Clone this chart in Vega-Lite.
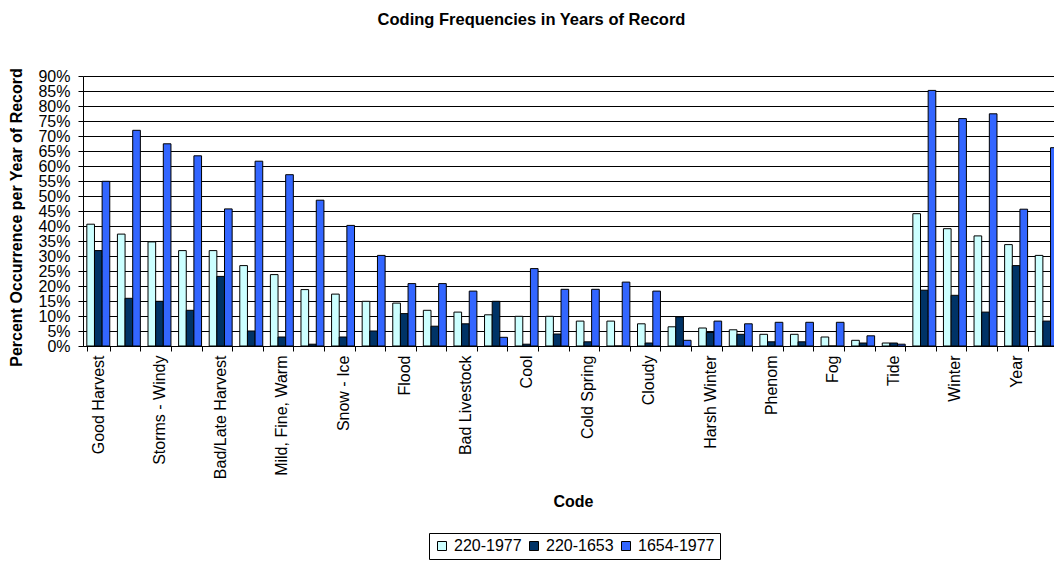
{
  "$schema": "https://vega.github.io/schema/vega-lite/v6.json",
  "autosize": {"type": "none"},
  "padding": {"left": 83, "top": 76, "right": 0, "bottom": 217},
  "width": 971,
  "height": 270,
  "background": "white",
  "config": {
    "font": "Liberation Sans",
    "view": {"stroke": null}
  },
  "title": {
    "text": "Coding Frequencies in Years of Record",
    "fontSize": 16.5,
    "fontWeight": "bold",
    "color": "black",
    "anchor": "middle",
    "dx": -37,
    "offset": 39
  },
  "data": {
    "values": [
      {"code": "Good Harvest", "period": "220-1977", "pct": 40.6},
      {"code": "Good Harvest", "period": "220-1653", "pct": 31.8},
      {"code": "Good Harvest", "period": "1654-1977", "pct": 54.9},
      {"code": "#2", "period": "220-1977", "pct": 37.3},
      {"code": "#2", "period": "220-1653", "pct": 15.9},
      {"code": "#2", "period": "1654-1977", "pct": 71.9},
      {"code": "Storms - Windy", "period": "220-1977", "pct": 34.7},
      {"code": "Storms - Windy", "period": "220-1653", "pct": 14.9},
      {"code": "Storms - Windy", "period": "1654-1977", "pct": 67.4},
      {"code": "#4", "period": "220-1977", "pct": 31.8},
      {"code": "#4", "period": "220-1653", "pct": 11.9},
      {"code": "#4", "period": "1654-1977", "pct": 63.4},
      {"code": "Bad/Late Harvest", "period": "220-1977", "pct": 31.8},
      {"code": "Bad/Late Harvest", "period": "220-1653", "pct": 23.2},
      {"code": "Bad/Late Harvest", "period": "1654-1977", "pct": 45.7},
      {"code": "#6", "period": "220-1977", "pct": 26.8},
      {"code": "#6", "period": "220-1653", "pct": 5.0},
      {"code": "#6", "period": "1654-1977", "pct": 61.6},
      {"code": "Mild, Fine, Warm", "period": "220-1977", "pct": 23.8},
      {"code": "Mild, Fine, Warm", "period": "220-1653", "pct": 3.0},
      {"code": "Mild, Fine, Warm", "period": "1654-1977", "pct": 57.1},
      {"code": "#8", "period": "220-1977", "pct": 18.8},
      {"code": "#8", "period": "220-1653", "pct": 0.6},
      {"code": "#8", "period": "1654-1977", "pct": 48.6},
      {"code": "Snow - Ice", "period": "220-1977", "pct": 17.3},
      {"code": "Snow - Ice", "period": "220-1653", "pct": 3.0},
      {"code": "Snow - Ice", "period": "1654-1977", "pct": 40.2},
      {"code": "#10", "period": "220-1977", "pct": 14.9},
      {"code": "#10", "period": "220-1653", "pct": 5.0},
      {"code": "#10", "period": "1654-1977", "pct": 30.2},
      {"code": "Flood", "period": "220-1977", "pct": 14.3},
      {"code": "Flood", "period": "220-1653", "pct": 10.8},
      {"code": "Flood", "period": "1654-1977", "pct": 20.8},
      {"code": "#12", "period": "220-1977", "pct": 11.9},
      {"code": "#12", "period": "220-1653", "pct": 6.6},
      {"code": "#12", "period": "1654-1977", "pct": 20.8},
      {"code": "Bad Livestock", "period": "220-1977", "pct": 11.3},
      {"code": "Bad Livestock", "period": "220-1653", "pct": 7.4},
      {"code": "Bad Livestock", "period": "1654-1977", "pct": 18.3},
      {"code": "#14", "period": "220-1977", "pct": 10.4},
      {"code": "#14", "period": "220-1653", "pct": 14.9},
      {"code": "#14", "period": "1654-1977", "pct": 2.9},
      {"code": "Cool", "period": "220-1977", "pct": 9.9},
      {"code": "Cool", "period": "220-1653", "pct": 0.6},
      {"code": "Cool", "period": "1654-1977", "pct": 25.8},
      {"code": "#16", "period": "220-1977", "pct": 9.9},
      {"code": "#16", "period": "220-1653", "pct": 4.0},
      {"code": "#16", "period": "1654-1977", "pct": 18.9},
      {"code": "Cold Spring", "period": "220-1977", "pct": 8.3},
      {"code": "Cold Spring", "period": "220-1653", "pct": 1.4},
      {"code": "Cold Spring", "period": "1654-1977", "pct": 18.9},
      {"code": "#18", "period": "220-1977", "pct": 8.3},
      {"code": "#18", "period": "220-1653", "pct": 0},
      {"code": "#18", "period": "1654-1977", "pct": 21.3},
      {"code": "Cloudy", "period": "220-1977", "pct": 7.4},
      {"code": "Cloudy", "period": "220-1653", "pct": 1.0},
      {"code": "Cloudy", "period": "1654-1977", "pct": 18.3},
      {"code": "#20", "period": "220-1977", "pct": 6.4},
      {"code": "#20", "period": "220-1653", "pct": 9.7},
      {"code": "#20", "period": "1654-1977", "pct": 1.9},
      {"code": "Harsh Winter", "period": "220-1977", "pct": 6.0},
      {"code": "Harsh Winter", "period": "220-1653", "pct": 4.5},
      {"code": "Harsh Winter", "period": "1654-1977", "pct": 8.3},
      {"code": "#22", "period": "220-1977", "pct": 5.4},
      {"code": "#22", "period": "220-1653", "pct": 3.9},
      {"code": "#22", "period": "1654-1977", "pct": 7.4},
      {"code": "Phenom", "period": "220-1977", "pct": 3.9},
      {"code": "Phenom", "period": "220-1653", "pct": 1.4},
      {"code": "Phenom", "period": "1654-1977", "pct": 7.9},
      {"code": "#24", "period": "220-1977", "pct": 3.9},
      {"code": "#24", "period": "220-1653", "pct": 1.4},
      {"code": "#24", "period": "1654-1977", "pct": 7.9},
      {"code": "Fog", "period": "220-1977", "pct": 3.0},
      {"code": "Fog", "period": "220-1653", "pct": 0},
      {"code": "Fog", "period": "1654-1977", "pct": 7.9},
      {"code": "#26", "period": "220-1977", "pct": 1.9},
      {"code": "#26", "period": "220-1653", "pct": 1.0},
      {"code": "#26", "period": "1654-1977", "pct": 3.4},
      {"code": "Tide", "period": "220-1977", "pct": 1.0},
      {"code": "Tide", "period": "220-1653", "pct": 1.0},
      {"code": "Tide", "period": "1654-1977", "pct": 0.6},
      {"code": "#28", "period": "220-1977", "pct": 44.1},
      {"code": "#28", "period": "220-1653", "pct": 18.6},
      {"code": "#28", "period": "1654-1977", "pct": 85.2},
      {"code": "Winter", "period": "220-1977", "pct": 39.1},
      {"code": "Winter", "period": "220-1653", "pct": 16.9},
      {"code": "Winter", "period": "1654-1977", "pct": 75.8},
      {"code": "#30", "period": "220-1977", "pct": 36.7},
      {"code": "#30", "period": "220-1653", "pct": 11.3},
      {"code": "#30", "period": "1654-1977", "pct": 77.4},
      {"code": "Year", "period": "220-1977", "pct": 33.8},
      {"code": "Year", "period": "220-1653", "pct": 26.8},
      {"code": "Year", "period": "1654-1977", "pct": 45.6},
      {"code": "#32", "period": "220-1977", "pct": 30.2},
      {"code": "#32", "period": "220-1653", "pct": 8.3},
      {"code": "#32", "period": "1654-1977", "pct": 66.1}
    ]
  },
  "mark": {"type": "bar", "stroke": "black", "strokeWidth": 1, "clip": true},
  "encoding": {
    "x": {
      "field": "code",
      "type": "nominal",
      "sort": null,
      "scale": {"range": [0, 979], "paddingInner": 0.25, "paddingOuter": 0.125},
      "axis": {
        "title": "Code",
        "titleFontSize": 16,
        "titleFontWeight": "bold",
        "titleColor": "black",
        "titleX": 490,
        "titleY": 155,
        "titleAlign": "center",
        "titleBaseline": "middle",
        "labelAngle": -90,
        "labelFontSize": 16,
        "labelColor": "black",
        "labelPadding": 4,
        "labelOverlap": false,
        "labelExpr": "test(/^#/, datum.label) ? '' : datum.label",
        "tickBand": "extent",
        "tickSize": 5,
        "tickColor": "black",
        "domainColor": "black",
        "grid": false
      }
    },
    "xOffset": {
      "field": "period",
      "type": "nominal",
      "sort": ["220-1977", "220-1653", "1654-1977"],
      "scale": {"paddingInner": 0, "paddingOuter": 0}
    },
    "y": {
      "field": "pct",
      "type": "quantitative",
      "scale": {"domain": [0, 90], "nice": false},
      "axis": {
        "title": "Percent Occurrence per Year of Record",
        "titleFontSize": 16,
        "titleFontWeight": "bold",
        "titleColor": "black",
        "titleX": -67,
        "titleY": 141,
        "titleAlign": "center",
        "titleBaseline": "middle",
        "values": [0, 5, 10, 15, 20, 25, 30, 35, 40, 45, 50, 55, 60, 65, 70, 75, 80, 85, 90],
        "labelExpr": "datum.value + '%'",
        "labelFontSize": 16,
        "labelColor": "black",
        "labelPadding": 8,
        "labelOverlap": false,
        "labelBound": false,
        "tickSize": 5,
        "tickColor": "black",
        "domainColor": "black",
        "grid": true,
        "gridColor": "black",
        "gridOpacity": 1
      }
    },
    "color": {
      "field": "period",
      "type": "nominal",
      "scale": {
        "domain": ["220-1977", "220-1653", "1654-1977"],
        "range": ["#CCFFFF", "#003366", "#3366FF"]
      },
      "legend": {
        "title": null,
        "orient": "none",
        "direction": "horizontal",
        "legendX": 346,
        "legendY": 457,
        "symbolType": "square",
        "symbolSize": 81,
        "symbolStrokeColor": "black",
        "symbolStrokeWidth": 1,
        "labelFontSize": 16,
        "labelColor": "black",
        "labelOffset": 4,
        "columnPadding": 4,
        "padding": 5,
        "strokeColor": "black",
        "fillColor": "white"
      }
    }
  }
}
